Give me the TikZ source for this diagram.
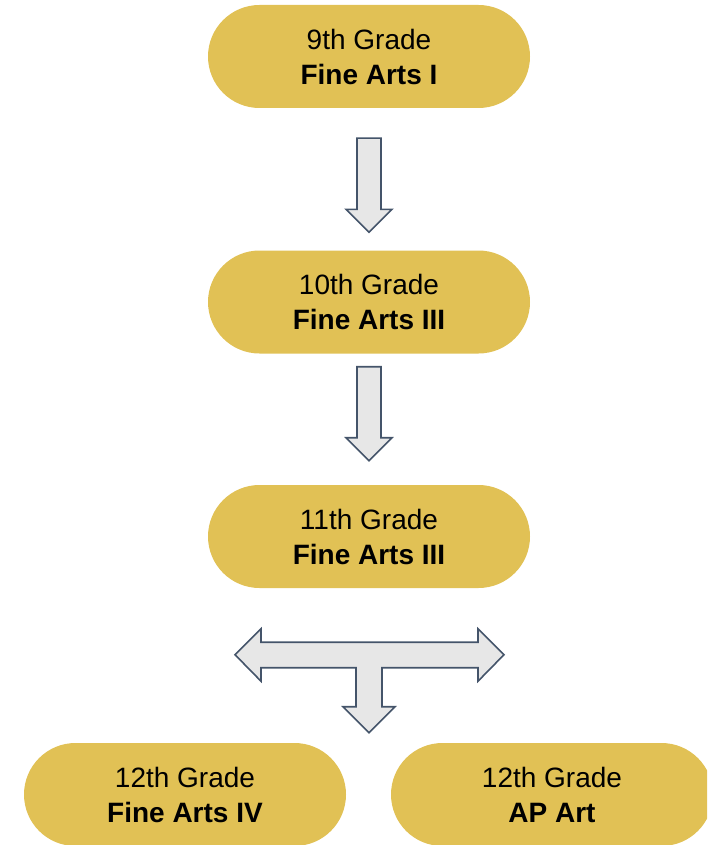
\documentclass[tikz,border=0pt]{standalone}
\usepackage{fontspec}
\setmainfont{Liberation Sans}
\usetikzlibrary{calc,shapes.misc}
\definecolor{gradegold}{RGB}{225,193,85}
\definecolor{arrowline}{RGB}{68,84,106}
\definecolor{arrowfill}{RGB}{231,231,231}
\tikzset{
	grade/.style={rounded rectangle, fill=gradegold, minimum width=322, minimum height=103, inner sep=0pt, align=center, font=\fontsize{28}{35}\selectfont},
	blockarrow/.style={draw=arrowline, fill=arrowfill, line width=1.6pt, line join=miter}
}
% down block arrow from (#1) to its tip (#2)
\def\blockdown(#1)(#2){\draw[blockarrow] ($(#1)+(-12,0)$) -- ($(#1)+(12,0)$) -- ($(#2)+(12,-23)$) -- ($(#2)+(23,-23)$) -- (#2) -- ($(#2)+(-23,-23)$) -- ($(#2)+(-12,-23)$) -- cycle;}

\begin{document}
\begin{tikzpicture}[x=1pt, y=-1pt]
			%%%%% START %%%%%
			
			\useasboundingbox (0, 0) rectangle (707, 845);
			\clip (0, 0) rectangle (707, 845);
			
			\node[grade] (g9) at (369, 56.5) {9th Grade\\\textbf{Fine Arts I}};
			\node[grade] (g10) at (369, 302) {10th Grade\\\textbf{Fine Arts III}};
			\node[grade] (g11) at (369, 536.5) {11th Grade\\\textbf{Fine Arts III}};
			\node[grade] (g12iv) at (185, 794.5) {12th Grade\\\textbf{Fine Arts IV}};
			\node[grade] (g12ap) at (552, 794.5) {12th Grade\\\textbf{AP Art}};
			
			\coordinate (a1) at ($(g9.south)+(0, 30)$);
			\coordinate (a1tip) at ($(g10.north)+(0, -18)$);
			\blockdown(a1)(a1tip);
			
			\coordinate (a2) at ($(g10.south)+(0, 13)$);
			\coordinate (a2tip) at ($(g10.south)+(0, 107)$);
			\blockdown(a2)(a2tip);
			
			% split arrow under 11th grade
			\coordinate (split) at ($(g11.south)+(0, 66.5)$);
			\draw[blockarrow] (split) ++(-134, 0) -- ++(26, -26) -- ++(0, 13.5) -- ++(217, 0) -- ++(0, -13.5)
				-- ++(26, 26) -- ++(-26, 26.5) -- ++(0, -13.5) -- ++(-96, 0) -- ++(0, 39) -- ++(13, 0)
				-- ++(-26, 26) -- ++(-26, -26) -- ++(13, 0) -- ++(0, -39) -- ++(-95, 0) -- ++(0, 13.5) -- cycle;
			
			%%%%% END %%%%%
\end{tikzpicture}
\end{document}
